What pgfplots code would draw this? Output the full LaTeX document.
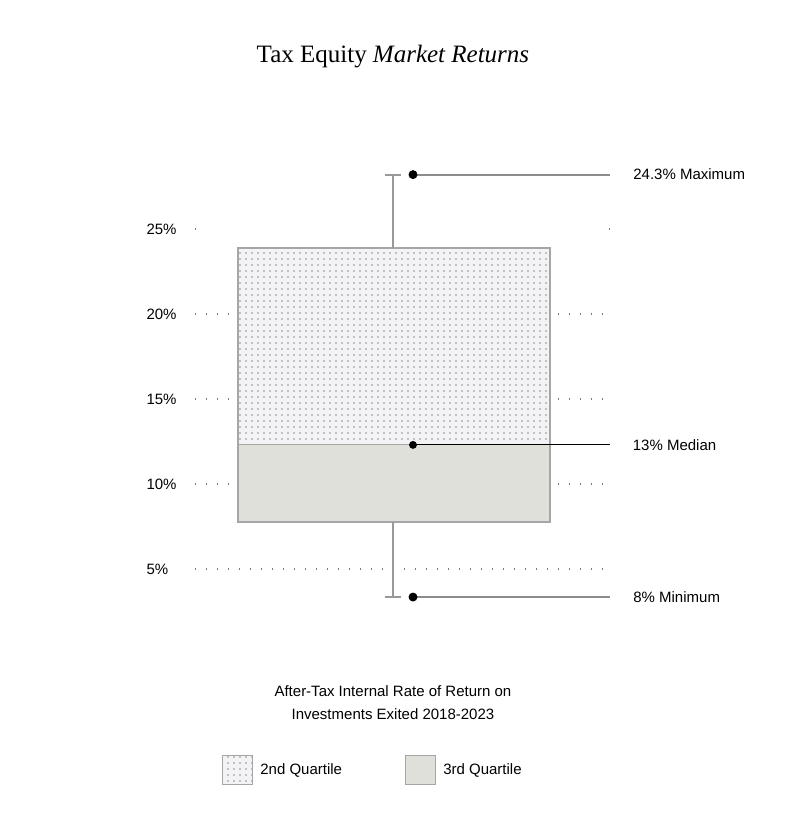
\documentclass[border=0pt]{standalone}
\usepackage{pgfplots}
\pgfplotsset{compat=1.18}
\usepackage{fontspec}
\setmainfont{Liberation Sans}
\newfontfamily\titlefont{Liberation Serif}
\usetikzlibrary{patterns.meta}

\definecolor{upfill}{HTML}{F3F3F5}
\definecolor{dotcol}{HTML}{8F8F8F}
\definecolor{lowfill}{HTML}{E0E0DB}
\definecolor{boxedge}{HTML}{A6A6A6}
\definecolor{whisk}{HTML}{999999}
\definecolor{lead}{HTML}{8C8C8C}
\definecolor{gridc}{HTML}{7A7A7A}

\begin{document}
\begin{tikzpicture}
\useasboundingbox (-195pt,-226pt) rectangle (592pt,603pt);
\begin{axis}[
    scale only axis,
    clip=false,
    width=415pt, height=442pt,
    xmin=0, xmax=415,
    ymin=3, ymax=29,
    axis line style={draw=none},
    major tick length=0pt,
    xtick=\empty,
    ytick={5,10,15,20},
    yticklabels={5\%,10\%,15\%,20\%},
    extra y ticks={25},
    extra y tick labels={25\%},
    extra y tick style={major grid style={gridc, line width=1.1pt, dash pattern=on 1.1pt off 412.8pt}},
    ymajorgrids,
    major grid style={gridc, line width=1.1pt, dash pattern=on 1.1pt off 9.9pt},
    yticklabel style={anchor=west, xshift=-52pt, font=\fontsize{15}{18}\selectfont},
    title={\titlefont Tax Equity \textit{Market Returns}},
    title style={at={(axis description cs:0.477,1.222)}, anchor=center, font=\fontsize{25}{29}\selectfont},
    xlabel={After-Tax Internal Rate of Return on\\Investments Exited 2018-2023},
    xlabel style={at={(axis description cs:0.477,-0.225)}, anchor=center, align=center, font=\fontsize{15}{23}\selectfont},
    legend columns=2,
    legend cell align=left,
    legend style={draw=none, fill=none, at={(axis description cs:0.065,-0.378)}, anchor=west,
        inner sep=0pt, font=\fontsize{15}{18}\selectfont,
        /tikz/every odd column/.append style={column sep=5pt},
        /tikz/every even column/.append style={column sep=61pt}},
    legend image code/.code={\draw[#1] (0pt,-14.5pt) rectangle (30pt,14.5pt);},
]
% 2nd quartile (upper part of the box)
\addplot[draw=boxedge, line width=1.2pt, fill=upfill,
    postaction={pattern={Dots[distance=6pt, radius=0.8pt]}, pattern color=dotcol}]
    coordinates {(43,12.3) (355,12.3) (355,23.88) (43,23.88)} --cycle;
\addlegendentry{2nd Quartile}
% 3rd quartile (lower part of the box)
\addplot[draw=boxedge, line width=1.2pt, fill=lowfill]
    coordinates {(43,7.76) (355,7.76) (355,12.3) (43,12.3)} --cycle;
\addlegendentry{3rd Quartile}

% whiskers
\addplot[forget plot, whisk, line width=2pt] coordinates {(198,23.88) (198,28.2)};
\addplot[forget plot, whisk, line width=2pt] coordinates {(190,28.2) (206,28.2)};
\addplot[forget plot, whisk, line width=2pt] coordinates {(198,7.76) (198,3.35)};
\addplot[forget plot, whisk, line width=2pt] coordinates {(190,3.35) (206,3.35)};

% callouts
\addplot[forget plot, lead, line width=2pt, mark=*, mark indices={1},
    mark options={black, fill=black, scale=1.7}]
    coordinates {(218,28.2) (415,28.2)}
    node[pos=1, anchor=west, xshift=19pt, black, font=\fontsize{15}{18}\selectfont] {24.3\% Maximum};
\addplot[forget plot, black, line width=1pt, mark=*, mark indices={1},
    mark options={black, fill=black, scale=1.7}]
    coordinates {(218,12.3) (415,12.3)}
    node[pos=1, anchor=west, xshift=19pt, black, font=\fontsize{15}{18}\selectfont] {13\% Median};
\addplot[forget plot, lead, line width=2pt, mark=*, mark indices={1},
    mark options={black, fill=black, scale=1.7}]
    coordinates {(218,3.35) (415,3.35)}
    node[pos=1, anchor=west, xshift=19pt, black, font=\fontsize{15}{18}\selectfont] {8\% Minimum};
\end{axis}
\end{tikzpicture}
\end{document}
